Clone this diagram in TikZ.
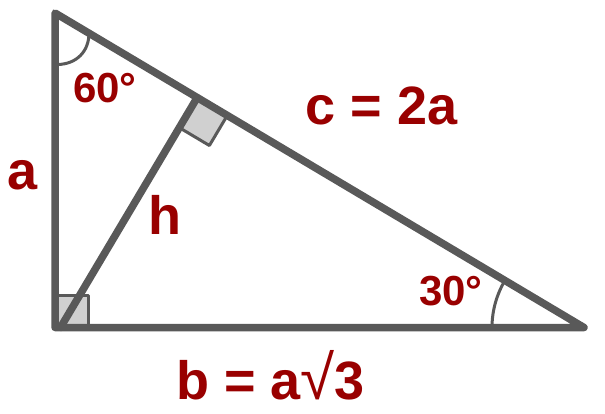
\documentclass[tikz,border=0pt]{standalone}
\usepackage{fontspec}
\setmainfont{Liberation Sans}
\usetikzlibrary{calc}
\definecolor{edge}{HTML}{595959}
\definecolor{lbl}{HTML}{990000}
\definecolor{boxfill}{HTML}{D0D0D0}
\begin{document}
\begin{tikzpicture}[x=1pt,y=-1pt,
  side/.style={draw=edge,line width=7.5pt,line join=round,line cap=round},
  anglearc/.style={draw=edge,line width=3pt},
  rbox/.style={draw=edge,fill=boxfill,line width=3pt,line join=round},
  big/.style={text=lbl,font=\fontsize{54}{62}\selectfont\bfseries,anchor=base,inner sep=0pt},
  small/.style={text=lbl,font=\fontsize{42}{48}\selectfont\bfseries,anchor=base,inner sep=0pt}]
\useasboundingbox (0,0) rectangle (605,413);
\coordinate (A) at (55,13);
\coordinate (B) at (55,327.5);
\coordinate (C) at (584,327.5);
\coordinate (H) at (60.5,327.5);
\coordinate (F) at ($(A)!(H)!(C)$);
\coordinate (F1) at ($(F)!35pt!(C)$);
\coordinate (F2) at ($(F)!35pt!(H)$);
\coordinate (F3) at ($(F1)+(F2)-(F)$);
% right-angle boxes
\draw[rbox] (B) rectangle ++(33,-32);
\draw[rbox] (F) -- (F1) -- (F3) -- (F2) -- cycle;
% angle arcs
\draw[anglearc] ($(C)+(-92pt,0)$) arc[start angle=180,end angle=149.27,radius=92pt];
\draw[anglearc] (58,64.5) .. controls (76,64) and (89,52) .. (89,33);
% triangle and altitude
\draw[side] (A) -- (B) -- (C) -- cycle;
\draw[side] (H) -- (F);
% labels
\node[big] (lc) at (381.5,124) {c = 2a};
\node[big] (lb) at (270.5,399) {b = a{\mdseries\fontsize{62}{62}\selectfont √}3};
\node[big] (la) at (22.5,189) {a};
\node[big] (lh) at (164.5,234) {h};
\node[small] (l60) at (105,102) {60°};
\node[small] (l30) at (451,305) {30°};
\end{tikzpicture}
\end{document}
